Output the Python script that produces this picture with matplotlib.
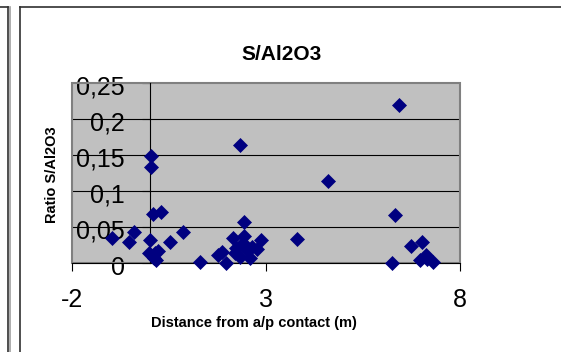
import matplotlib
matplotlib.use("Agg")
import matplotlib.pyplot as plt
import matplotlib.transforms as mtransforms
from matplotlib.lines import Line2D
from matplotlib.patches import Rectangle
from matplotlib.ticker import FixedLocator, FuncFormatter

plt.rcParams["font.family"] = ["Liberation Sans", "DejaVu Sans"]
plt.rcParams["axes.unicode_minus"] = False

# distance from a/p contact (m) and ratio S/Al2O3
distance = [-0.98, -0.53, -0.42, 0.02, 0.03, 0.08, 0.28, 0.01, -0.02, 0.13,
            0.21, 0.10, 0.17, 0.51, 0.86, 1.30, 1.76, 1.85, 1.96, 2.15,
            2.33, 2.43, 2.42, 2.22, 2.32, 2.41, 2.49, 2.58, 2.64, 2.76,
            2.86, 2.19, 3.80, 4.59, 6.32, 6.42, 6.25, 6.74, 7.02, 6.95,
            7.12, 7.29, 7.15]
ratio = [0.035, 0.029, 0.043, 0.149, 0.134, 0.068, 0.071, 0.032, 0.015, 0.014,
         0.017, 0.007, 0.004, 0.029, 0.043, 0.002, 0.012, 0.016, 0.001, 0.035,
         0.164, 0.057, 0.038, 0.021, 0.009, 0.028, 0.018, 0.008, 0.022, 0.020,
         0.032, 0.014, 0.034, 0.114, 0.067, 0.220, 0.000, 0.024, 0.030, 0.004,
         0.012, 0.002, 0.006]
x_ticks = [-2, 3, 8]
y_ticks = [0, 0.05, 0.1, 0.15, 0.2, 0.25]

W, H = 561, 352
fig = plt.figure(figsize=(W / 100, H / 100), dpi=100)


def fx(px):
    return px / W


def fy(py):
    return 1 - py / H


# frame of the chart area + edge of the neighbouring chart
fig.add_artist(Line2D([fx(20), fx(20)], [fy(7), 0], color="#303030", lw=1.2))
fig.add_artist(Line2D([fx(20), 1], [fy(7), fy(7)], color="#303030", lw=1.2))
fig.add_artist(Line2D([0, fx(8)], [fy(7), fy(7)], color="#303030", lw=1.2))
fig.add_artist(Line2D([fx(8), fx(8)], [fy(7), 0], color="#303030", lw=1.2))
fig.add_artist(Line2D([fx(10), fx(10)], [fy(7), 0], color="#a0a0a0", lw=1.2))

L, R, T, B = 72.3, 460.3, 83.3, 263.3
ax = fig.add_axes([fx(L), fy(B), fx(R) - fx(L), fy(T) - fy(B)])
ax.set_facecolor("#c0c0c0")
ax.set_xlim(-2, 8)
ax.set_ylim(0, 0.25)

for s in ["top", "right"]:
    ax.spines[s].set_visible(False)
ax.spines["left"].set_position(("data", 0))
ax.spines["left"].set_color("black")
ax.spines["left"].set_linewidth(0.8)
ax.spines["bottom"].set_color("black")
ax.spines["bottom"].set_linewidth(0.8)
ax.spines["bottom"].set_zorder(3)

ax.add_patch(Rectangle((0, 0), 1, 1, transform=ax.transAxes, fill=False,
                       ec="#808080", lw=1.5, zorder=2.5, clip_on=False))

for v in y_ticks[1:-1]:
    ax.axhline(v, color="black", lw=0.8, zorder=1)

ax.xaxis.set_major_locator(FixedLocator(x_ticks))
ax.yaxis.set_major_locator(FixedLocator(y_ticks))
ax.yaxis.set_major_formatter(FuncFormatter(lambda v, p: f"{v:g}".replace(".", ",")))
ax.tick_params(axis="x", direction="out", length=6, width=0.8, pad=12, labelsize=18)
ax.tick_params(axis="y", direction="out", length=6, width=0.8, pad=12, labelsize=18)

# Excel draws the value labels a touch below their ticks
shift = mtransforms.ScaledTranslation(0, -2 / 100, fig.dpi_scale_trans)
for lab in ax.get_yticklabels():
    lab.set_transform(lab.get_transform() + shift)

ax.plot(distance, ratio, ls="none", marker="D", ms=7.6, color="#000080",
        mec="#000080", mew=0.5, clip_on=False, zorder=4)

fig.text(fx(282), fy(55), "S/Al2O3", ha="center", va="center",
         fontsize=15, fontweight="bold")
fig.text(fx(253.5), fy(323), "Distance from a/p contact (m)", ha="center",
         va="center", fontsize=10.5, fontweight="bold")
fig.text(fx(52), fy(175), "Ratio S/Al2O3", ha="center", va="center",
         rotation=90, fontsize=10.5, fontweight="bold")

fig.savefig("out.png", dpi=100)
